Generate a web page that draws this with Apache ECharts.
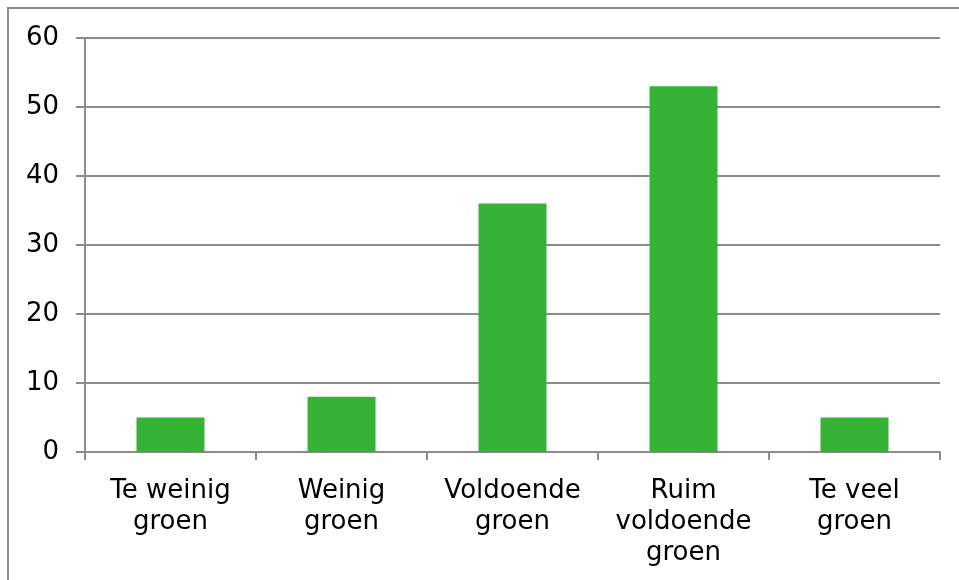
<!DOCTYPE html>
<html>
<head>
<meta charset="utf-8">
<script src="https://cdn.jsdelivr.net/npm/echarts@6/dist/echarts.min.js"></script>
<style>
  html, body { margin: 0; padding: 0; background: #fff; }
  #chart { width: 959px; height: 580px; }
</style>
</head>
<body>
<div id="chart"></div>
<script>
// Categories and counts
const categories = ['Te weinig\ngroen', 'Weinig\ngroen', 'Voldoende\ngroen', 'Ruim\nvoldoende\ngroen', 'Te veel\ngroen'];
const counts = [5, 8, 36, 53, 5];
const yTicks = { min: 0, max: 60, interval: 10 };

const gray = '#8c8c8c';
const font = '"DejaVu Sans", Verdana, sans-serif';

const chart = echarts.init(document.getElementById('chart'), null, { renderer: 'canvas' });
chart.setOption({
  animation: false,
  backgroundColor: '#fff',
  graphic: [{
    type: 'rect',
    shape: { x: 8, y: 8, width: 1200, height: 1200 },
    style: { fill: 'none', stroke: gray, lineWidth: 2 },
    silent: true
  }],
  grid: { left: 85, right: 19, top: 38, bottom: 128, containLabel: false },
  xAxis: {
    type: 'category',
    data: categories,
    axisLine: { lineStyle: { color: gray, width: 2 } },
    axisTick: { show: true, length: 8, alignWithLabel: false, lineStyle: { color: gray, width: 2 } },
    axisLabel: { color: '#000', fontFamily: font, fontSize: 26, lineHeight: 31, margin: 24, interval: 0 },
    splitLine: { show: false }
  },
  yAxis: {
    type: 'value',
    min: yTicks.min, max: yTicks.max, interval: yTicks.interval,
    axisLine: { show: true, lineStyle: { color: gray, width: 2 } },
    axisTick: { show: true, length: 9, lineStyle: { color: gray, width: 2 } },
    axisLabel: { color: '#000', fontFamily: font, fontSize: 26, margin: 26 },
    splitLine: { show: true, lineStyle: { color: gray, width: 2 } }
  },
  series: [{
    type: 'bar',
    data: counts,
    barWidth: 68,
    itemStyle: { color: '#36b336' }
  }]
});
</script>
</body>
</html>
